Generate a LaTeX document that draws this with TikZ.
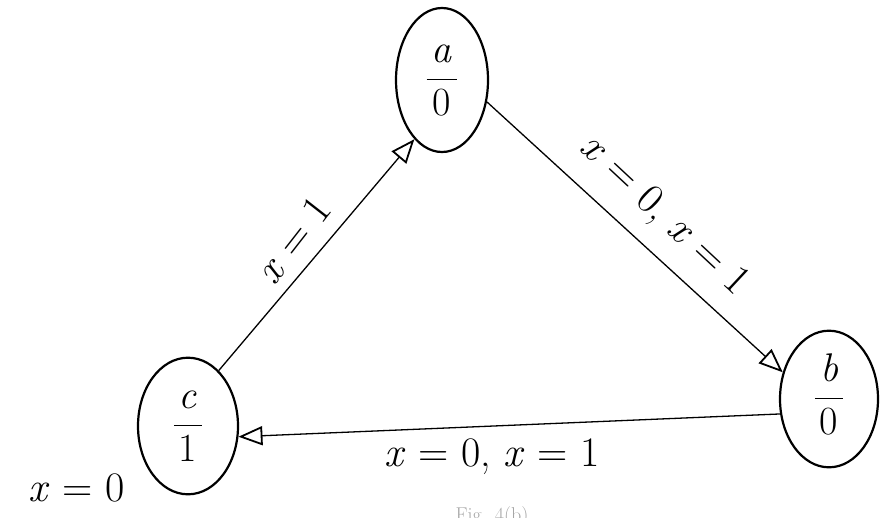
\documentclass[tikz,border=0pt]{standalone}
\usepackage{fontspec}
\usetikzlibrary{shapes.geometric,arrows.meta}
\newcommand{\fracnode}[2]{\begin{tabular}{@{\hspace{5pt}}c@{\hspace{5pt}}}\textit{#1}\\[3pt]\hline\rule{0pt}{36pt}#2\end{tabular}}
\begin{document}
\begin{tikzpicture}[x=1pt,y=-1pt,
  state/.style={draw, ellipse, line width=2.2pt, inner sep=0pt},
  edge/.style={draw, line width=1.3pt, -{Triangle[open, length=24pt, width=19pt, line width=1.8pt]}},
  lbl/.style={font=\fontsize{42}{46}\selectfont, inner sep=0pt},
  frac/.style={font=\fontsize{40}{44}\selectfont, align=center}]
\useasboundingbox (0,0) rectangle (890,517);
\node[state, minimum width=92pt, minimum height=144pt, frac] (a) at (442,80) {\fracnode{a}{0}};
\node[state, minimum width=98pt, minimum height=128pt, frac] (b) at (829,399) {\fracnode{b}{0}};
\node[state, minimum width=100pt, minimum height=136pt, frac] (c) at (188,426) {\fracnode{c}{1}};
\draw[edge] (c.61) -- (a.245);
\draw[edge] (a.334) -- (b.150);
\draw[edge] (b.197) -- (c.348);
\node[lbl, rotate=52] (l1) at (293,240) {\textit{x} = 1};
\node[lbl, rotate=-43] (l2) at (664,216) {\textit{x} = 0, \textit{x} = 1};
\node[lbl] (l3) at (492,457) {\textit{x} = 0, \textit{x} = 1};
\node[lbl] (l4) at (77,488) {\textit{x} = 0};
\node[font=\fontsize{20}{24}\selectfont, text=black!35, inner sep=0pt] (cap) at (492,516) {Fig. 4(b)};
\end{tikzpicture}
\end{document}
